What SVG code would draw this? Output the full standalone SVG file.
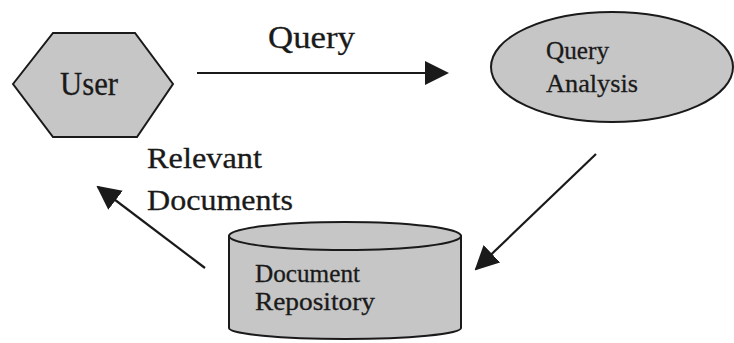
<svg xmlns="http://www.w3.org/2000/svg" width="734" height="343" viewBox="0 0 734 343">
  <defs>
    <style>
      .shape { fill: #c6c6c6; stroke: #1a1a1a; stroke-width: 2; }
      .label { font-family: "Liberation Serif", "Times New Roman", serif; fill: #1a1a1a; stroke: #1a1a1a; stroke-width: 0.3; }
      .edge { stroke: #1a1a1a; stroke-width: 2.2; fill: none; }
    </style>
    <marker id="head" viewBox="0 0 24 24" refX="22" refY="12" markerWidth="24" markerHeight="24" markerUnits="userSpaceOnUse" orient="auto">
      <path d="M0,0 L24,12 L0,24 z" fill="#1a1a1a"/>
    </marker>
  </defs>

  <rect width="734" height="343" fill="#ffffff"/>

  <g id="user">
    <polygon class="shape" points="13,84 53,33 135,33 173,84 137,137 53,137"/>
    <text class="label" x="89" y="95" font-size="33" text-anchor="middle" textLength="58" lengthAdjust="spacingAndGlyphs">User</text>
  </g>

  <g id="query-analysis">
    <ellipse class="shape" cx="612" cy="67" rx="121" ry="55"/>
    <text class="label" x="546" y="59" font-size="26" textLength="63" lengthAdjust="spacingAndGlyphs">Query</text>
    <text class="label" x="546" y="92" font-size="26" textLength="92" lengthAdjust="spacingAndGlyphs">Analysis</text>
  </g>

  <g id="document-repository">
    <path class="shape" d="M229,236 L229,328 A116,11 0 0 0 461,328 L461,236 Z"/>
    <ellipse class="shape" cx="345" cy="236" rx="116" ry="14"/>
    <text class="label" x="255" y="282" font-size="25" textLength="105" lengthAdjust="spacingAndGlyphs">Document</text>
    <text class="label" x="255" y="310" font-size="25" textLength="120" lengthAdjust="spacingAndGlyphs">Repository</text>
  </g>

  <g id="connectors">
    <line class="edge" x1="197" y1="73" x2="447" y2="73" marker-end="url(#head)"/>
    <text class="label" x="268" y="48" font-size="32" textLength="87" lengthAdjust="spacingAndGlyphs">Query</text>
    <line class="edge" x1="596" y1="154" x2="476" y2="269" marker-end="url(#head)"/>
    <line class="edge" x1="205" y1="268" x2="98" y2="187" marker-end="url(#head)"/>
    <text class="label" x="147" y="168" font-size="29" textLength="115" lengthAdjust="spacingAndGlyphs">Relevant</text>
    <text class="label" x="147" y="210" font-size="29" textLength="146" lengthAdjust="spacingAndGlyphs">Documents</text>
  </g>
</svg>
